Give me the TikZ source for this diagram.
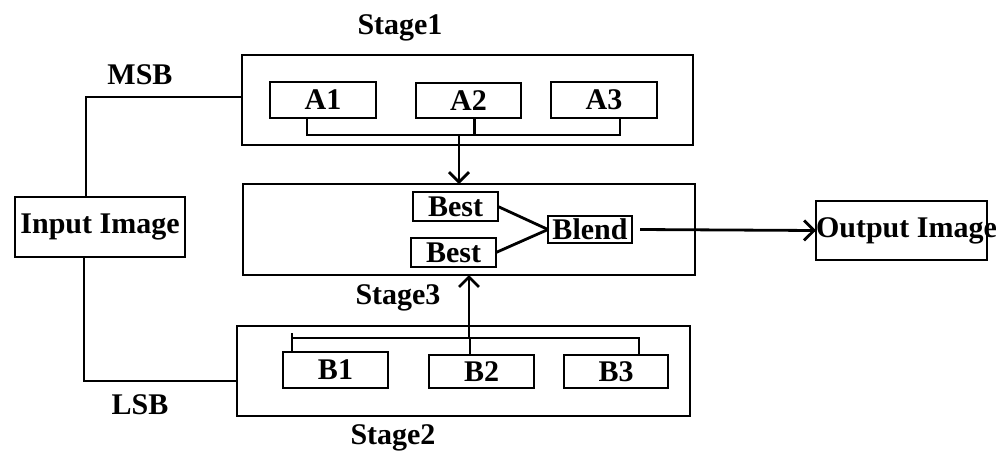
\documentclass[tikz,border=0pt]{standalone}
\usepackage{fontspec}
\setmainfont{Liberation Serif}
\usetikzlibrary{arrows.meta}
\begin{document}
\begin{tikzpicture}[x=0.5pt,y=-0.5pt,
  font=\fontsize{15}{18}\selectfont\bfseries,
  every path/.style={line width=1.4pt},
  box/.style={draw,line width=1.4pt,inner sep=0pt,outer sep=0pt},
  lbl/.style={inner sep=0pt},
  arr/.style={-{Straight Barb[length=5pt,width=10pt,line width=1.4pt]}}]
\useasboundingbox (0,0) rectangle (996,451);
% stage containers
\node[box,minimum width=225.5pt,minimum height=45pt] (stage1) at (467.5,100) {};
\node[box,minimum width=226pt,minimum height=45.5pt] (stage3) at (469,229.5) {};
\node[box,minimum width=226.5pt,minimum height=45pt] (stage2) at (463.5,371) {};
% inner boxes
\node[box,minimum width=53pt,minimum height=18pt] (A1) at (323,100) {A1};
\node[box,minimum width=52.5pt,minimum height=17.5pt] (A2) at (468.5,100.5) {A2};
\node[box,minimum width=53pt,minimum height=18pt] (A3) at (604,100) {A3};
\node[box,minimum width=42.5pt,minimum height=14.5pt] (best1) at (455.5,206.5) {Best};
\node[box,minimum width=42.5pt,minimum height=14.5pt] (best2) at (453.5,252.5) {Best};
\node[box,minimum width=42pt,minimum height=13.5pt] (blend) at (590,229.5) {\makebox[42pt][c]{Blend}};
\node[box,minimum width=52.5pt,minimum height=18pt] (B1) at (335.5,370) {B1};
\node[box,minimum width=52.5pt,minimum height=16.5pt] (B2) at (481.5,371.5) {B2};
\node[box,minimum width=52pt,minimum height=16.5pt] (B3) at (616,371.5) {B3};
\node[box,minimum width=85pt,minimum height=30pt] (input) at (100,227) {Input Image};
\node[box,minimum width=85.5pt,minimum height=29.5pt] (output) at (901.5,230.5) {\makebox[85.5pt][l]{Output Image}};
% labels
\node[lbl] (l1) at (400,28) {Stage1};
\node[lbl] (lmsb) at (140,75) {MSB};
\node[lbl] (llsb) at (140,405) {LSB};
\node[lbl] (l3) at (398,298) {Stage3};
\node[lbl] (l2) at (393,438) {Stage2};
% input branches
\draw ([xshift=-7pt]input.north) |- ([yshift=1.5pt]stage1.west);
\draw ([xshift=-8pt]input.south) |- ([yshift=-5pt]stage2.west);
% A bracket
\coordinate (abus) at (459,135);
\draw ([xshift=-8pt]A1.south) -- ++(0,17) -| ([xshift=8pt]A3.south);
\draw ([xshift=3pt]A2.south) -- ++(0,17);
\draw[arr] (abus) -- (abus |- stage3.north);
% B bracket
\coordinate (bl) at (292,338);
\coordinate (br) at (639,338);
\coordinate (bbus) at (469,338);
\draw ([xshift=-21.75pt]B1.north) -- ++(0,-19);
\draw (bl) -- (br) -- (br |- B3.north);
\draw ([xshift=-5.75pt]B2.north) -- ([xshift=-5.75pt]B2.north |- bl);
\draw[arr] (bbus) -- (bbus |- stage3.south);
% blend
\draw (best1.east) -- (blend.west);
\draw (best2.east) -- (blend.west);
\draw[arr] ([xshift=4pt]blend.east) -- (output.west);
\end{tikzpicture}
\end{document}
